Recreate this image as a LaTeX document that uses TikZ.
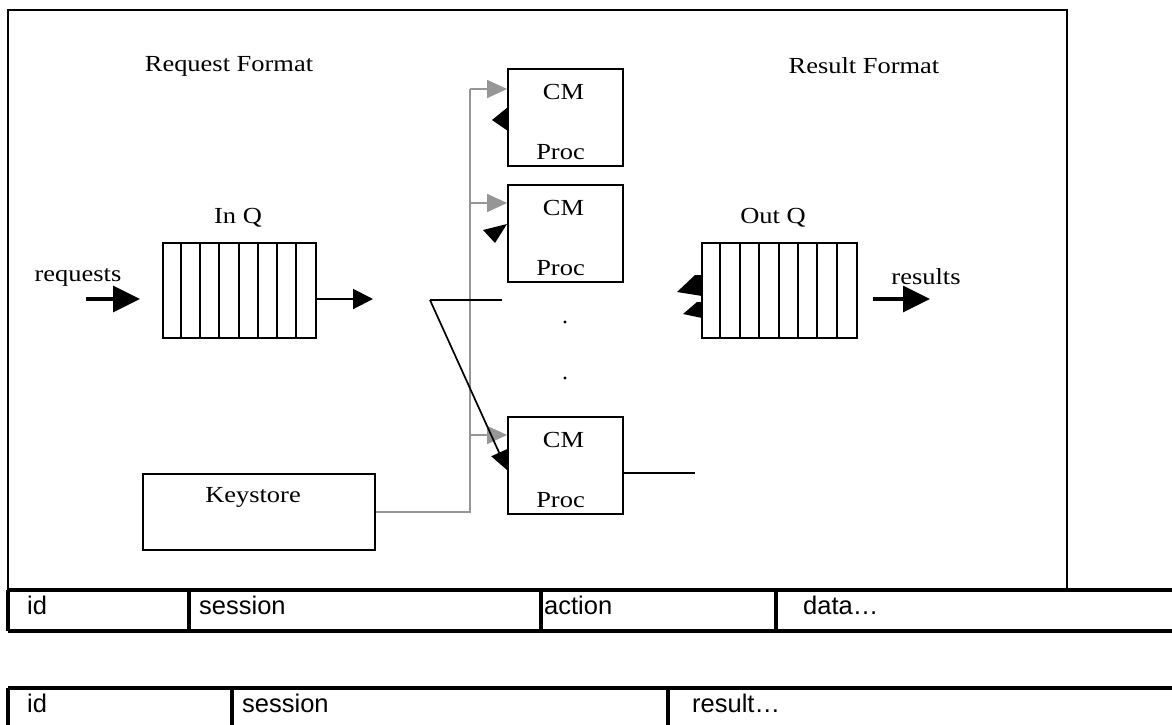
\documentclass[tikz,border=0pt]{standalone}
\usepackage{fontspec}
\setmainfont{Liberation Serif}
\newfontfamily\serifw[FakeStretch=1.15]{Liberation Serif}
\newfontfamily\arialf{Liberation Sans}
\usetikzlibrary{arrows.meta}
\definecolor{grayline}{RGB}{150,150,150}
\begin{document}
\begin{tikzpicture}[x=1pt,y=-1pt,
  lbl/.style={font=\serifw\fontsize{23}{27}\selectfont, inner sep=0pt},
  tbl/.style={font=\arialf\fontsize{25.5}{29}\selectfont, inner sep=0pt, anchor=west},
  box/.style={draw, line width=1.9pt, inner sep=0pt, fill=white},
  blk/.style={line width=1.9pt},
  tline/.style={line width=3.2pt},
  gry/.style={draw=grayline, line width=1.6pt},
  garrow/.style={gry, -{Triangle[length=20pt,width=18pt]}},
  bigarrow/.style={line width=3.5pt, -{Triangle[length=27pt,width=26pt]}},
  medarrow/.style={line width=2pt, -{Triangle[length=20pt,width=20pt]}},
  diagarrow/.style={line width=1.7pt, -{Triangle[length=19pt,width=17pt]}},
  dot/.style={circle, fill=black, inner sep=0pt, minimum size=3.2pt}
]
\fill[white] (0,0) rectangle (1172,724);
\useasboundingbox (0,0) rectangle (1172,724);

% outer frame
\node[draw, line width=1.9pt, minimum width=1059pt, minimum height=580pt, inner sep=0pt] (frame) at (537.5,300) {};

% titles
\node[lbl] (reqfmt) at (229,66) {Request Format};
\node[lbl] (resfmt) at (864,66) {Result Format};

% queues
\node[box, minimum width=153pt, minimum height=95pt] (inq) at (239.5,290.5) {};
\foreach \i in {1,...,7}
  \draw[blk] ([xshift=\i*19.125pt]inq.north west) -- ([xshift=\i*19.125pt]inq.south west);
\node[lbl] (inqlbl) at (238,218) {In Q};

\node[box, minimum width=155pt, minimum height=95pt] (outq) at (779.5,290.5) {};
\foreach \i in {1,...,7}
  \draw[blk] ([xshift=\i*19.375pt]outq.north west) -- ([xshift=\i*19.375pt]outq.south west);
\node[lbl] (outqlbl) at (773,218) {Out Q};

% CM Proc boxes
\node[box, minimum width=115pt, minimum height=97pt] (cm1) at (565.5,117.5) {};
\node[box, minimum width=115pt, minimum height=97pt] (cm2) at (565.5,233.5) {};
\node[box, minimum width=115pt, minimum height=97pt] (cm3) at (565.5,465.5) {};
\foreach \b in {cm1,cm2,cm3} {
  \node[lbl] (\b cm) at ([xshift=-2pt,yshift=-24pt]\b.north) {CM};
  \node[lbl] (\b proc) at ([xshift=-5pt,yshift=15pt]\b.south) {Proc};
}

% Keystore
\node[box, minimum width=232pt, minimum height=76pt] (keystore) at (259,512) {};
\node[lbl] (kslbl) at (253,497) {Keystore};

% gray distribution bus
\coordinate (busb) at (470,512);
\coordinate (g1) at (470,89);
\coordinate (g2) at (470,203);
\coordinate (g3) at (470,435);
\draw[gry] (keystore.east) -- (busb) -- (g1);
\draw[garrow] (g1) -- (g1 -| cm1.west);
\draw[garrow] (g2) -- (g2 -| cm2.west);
\draw[garrow] (g3) -- (g3 -| cm3.west);

% black fork to cm3
\coordinate (fork) at (430,300);
\coordinate (forkend) at (502,300);
\coordinate (cm3in) at (507,470);
\draw[blk] (forkend) -- (fork);
\draw[diagarrow] (fork) -- (cm3in);

% cm3 output line
\coordinate (c3out) at (695,473);
\draw[blk] (c3out -| cm3.east) -- (c3out);

% dots
\node[dot] (dot1) at (565,322) {};
\node[dot] (dot2) at (565,378) {};

% stray arrow heads
\fill (492,120) -- (508,107) -- (508,131) -- cycle;
\fill (483,230) -- (507,224) -- (495,243) -- cycle;
\fill (677,292) -- (695,275) -- (702,275) -- (702,296) -- cycle;
\fill (683,314) -- (697,302) -- (702,302) -- (702,318) -- cycle;

% main arrows
\node[lbl] (reqlbl) at (78,277) {requests};
\coordinate (reqs) at (86,299);
\coordinate (reqe) at (140,299);
\draw[bigarrow] (reqs) -- (reqe);
\coordinate (inqout) at (373,299);
\draw[medarrow] (inqout -| inq.east) -- (inqout);
\node[lbl] (reslbl) at (926,277) {results};
\coordinate (ress) at (873,299);
\coordinate (rese) at (930,299);
\draw[bigarrow] (ress) -- (rese);

% request format table
\draw[tline] (8,590) -- (1172,590);
\draw[tline] (8,631) -- (1172,631);
\foreach \x in {8,189,541,776} \draw[tline] (\x,590) -- (\x,631);
\node[tbl] (r1) at (27,605) {id};
\node[tbl] (r2) at (199,605) {session};
\node[tbl] (r3) at (544,605) {action};
\node[tbl] (r4) at (803,605) {data…};

% result format table
\draw[tline] (8,688) -- (1172,688);
\foreach \x in {8,232,668} \draw[tline] (\x,688) -- (\x,726);
\node[tbl] (s1) at (27,703) {id};
\node[tbl] (s2) at (242,703) {session};
\node[tbl] (s3) at (692,703) {result…};
\end{tikzpicture}
\end{document}
